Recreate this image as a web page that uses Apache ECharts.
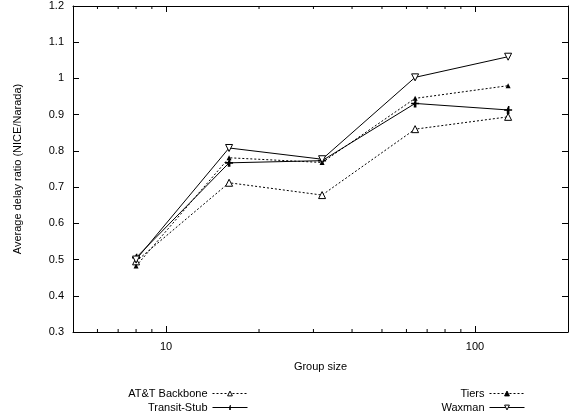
<!DOCTYPE html>
<html>
<head>
<meta charset="utf-8">
<script src="https://cdn.jsdelivr.net/npm/echarts@6/dist/echarts.min.js"></script>
<style>
  html, body { margin: 0; padding: 0; background: #fff; }
  #chart { width: 581px; height: 417px; }
</style>
</head>
<body>
<div id="chart"></div>
<script>
// Group sizes (log-scaled x axis)
var groupSizes = [8, 16, 32, 64, 128];

// Average delay ratio NICE/Narada for each topology
var attBackbone = [0.495, 0.712, 0.678, 0.860, 0.894];
var tiers       = [0.482, 0.781, 0.768, 0.945, 0.980];
var transitStub = [0.505, 0.767, 0.773, 0.931, 0.913];
var waxman      = [0.500, 0.808, 0.777, 1.003, 1.060];

// Axis ranges and tick values
var xMin = 5, xMax = 200;
var yMin = 0.3, yMax = 1.2, yStep = 0.1;
var xMajorLabels = [10, 100];
var xMinorTicks = [6, 7, 8, 9, 20, 30, 40, 50, 60, 70, 80, 90];

var FONT = 'Liberation Sans, Arial, Helvetica, sans-serif';

function pairs(ys) {
  return groupSizes.map(function (x, i) { return [x, ys[i]]; });
}

var plusPath = 'path://M4,0h2v4h4v2h-4v4h-4v-4h-4v-2h4z';

var chart = echarts.init(document.getElementById('chart'), null, { renderer: 'canvas' });

var tickStyle = { show: true, inside: true, length: 6, lineStyle: { color: '#000', width: 1 } };
var lineAxis = { show: true, lineStyle: { color: '#000', width: 1 } };

var legendCommon = {
  orient: 'vertical', align: 'right', top: 383, height: 40,
  itemWidth: 35, itemHeight: 6, itemGap: 3,
  lineStyle: { width: 1 },
  itemStyle: { borderWidth: 1 },
  textStyle: { fontFamily: FONT, fontSize: 11, color: '#000', lineHeight: 11 }
};

chart.setOption({
  animation: false,
  backgroundColor: '#fff',
  textStyle: { fontFamily: FONT },
  grid: { left: 73, right: 13, top: 6, bottom: 85, containLabel: false },
  xAxis: [
    {
      type: 'log', logBase: 10, min: xMin, max: xMax, position: 'bottom',
      name: 'Group size', nameLocation: 'middle', nameGap: 29,
      nameTextStyle: { fontFamily: FONT, fontSize: 11, color: '#000' },
      axisLine: lineAxis, axisTick: tickStyle, splitLine: { show: false },
      axisLabel: {
        fontFamily: FONT, fontSize: 11, color: '#000', margin: 9,
        formatter: function (v) {
          var r = Math.round(v);
          return xMajorLabels.indexOf(r) >= 0 && Math.abs(v - r) < 1e-6 ? String(r) : '';
        }
      }
    },
    {
      type: 'log', logBase: 10, min: xMin, max: xMax, position: 'top',
      axisLine: lineAxis, axisTick: tickStyle, axisLabel: { show: false }, splitLine: { show: false }
    }
  ],
  yAxis: [
    {
      type: 'value', min: yMin, max: yMax, interval: yStep, position: 'left',
      name: 'Average delay ratio (NICE/Narada)', nameLocation: 'middle', nameGap: 50,
      nameTextStyle: { fontFamily: FONT, fontSize: 11, color: '#000' },
      axisLine: lineAxis, axisTick: tickStyle, splitLine: { show: false },
      axisLabel: {
        fontFamily: FONT, fontSize: 11, color: '#000', margin: 9,
        formatter: function (v) { return String(Math.round(v * 10) / 10); }
      }
    },
    {
      type: 'value', min: yMin, max: yMax, interval: yStep, position: 'right',
      axisLine: lineAxis, axisTick: tickStyle, axisLabel: { show: false }, splitLine: { show: false }
    }
  ],
  legend: [
    Object.assign({}, legendCommon, { right: 328, data: ['AT&T Backbone', 'Transit-Stub'] }),
    Object.assign({}, legendCommon, { right: 51, data: ['Tiers', 'Waxman'] })
  ],
  series: [
    {
      name: 'AT&T Backbone', type: 'line', data: pairs(attBackbone),
      symbol: 'triangle', symbolSize: 7,
      lineStyle: { color: '#000', width: 1, type: [2, 2] },
      itemStyle: { color: '#fff', borderColor: '#000', borderWidth: 1 }
    },
    {
      name: 'Tiers', type: 'line', data: pairs(tiers),
      symbol: 'triangle', symbolSize: 5,
      lineStyle: { color: '#000', width: 1, type: [2, 2] },
      itemStyle: { color: '#000', borderColor: '#000', borderWidth: 0 }
    },
    {
      name: 'Transit-Stub', type: 'line', data: pairs(transitStub),
      symbol: plusPath, symbolSize: 8,
      lineStyle: { color: '#000', width: 1, type: 'solid' },
      itemStyle: { color: '#000' }
    },
    {
      name: 'Waxman', type: 'line', data: pairs(waxman),
      symbol: 'triangle', symbolSize: 7, symbolRotate: 180,
      lineStyle: { color: '#000', width: 1, type: 'solid' },
      itemStyle: { color: '#fff', borderColor: '#000', borderWidth: 1 }
    },
    {
      // minor ticks of the log axis (bottom and mirrored top)
      type: 'custom', silent: true, clip: false,
      data: xMinorTicks.map(function (v) { return [v, yMin]; }),
      encode: { x: 0, y: 1 },
      renderItem: function (params, api) {
        var v = api.value(0);
        var b = api.coord([v, yMin]);
        var t = api.coord([v, yMax]);
        return {
          type: 'group',
          children: [
            { type: 'line', shape: { x1: b[0], y1: b[1], x2: b[0], y2: b[1] - 3 }, style: { stroke: '#000', lineWidth: 1 } },
            { type: 'line', shape: { x1: t[0], y1: t[1], x2: t[0], y2: t[1] + 3 }, style: { stroke: '#000', lineWidth: 1 } }
          ]
        };
      }
    }
  ]
});
</script>
</body>
</html>
